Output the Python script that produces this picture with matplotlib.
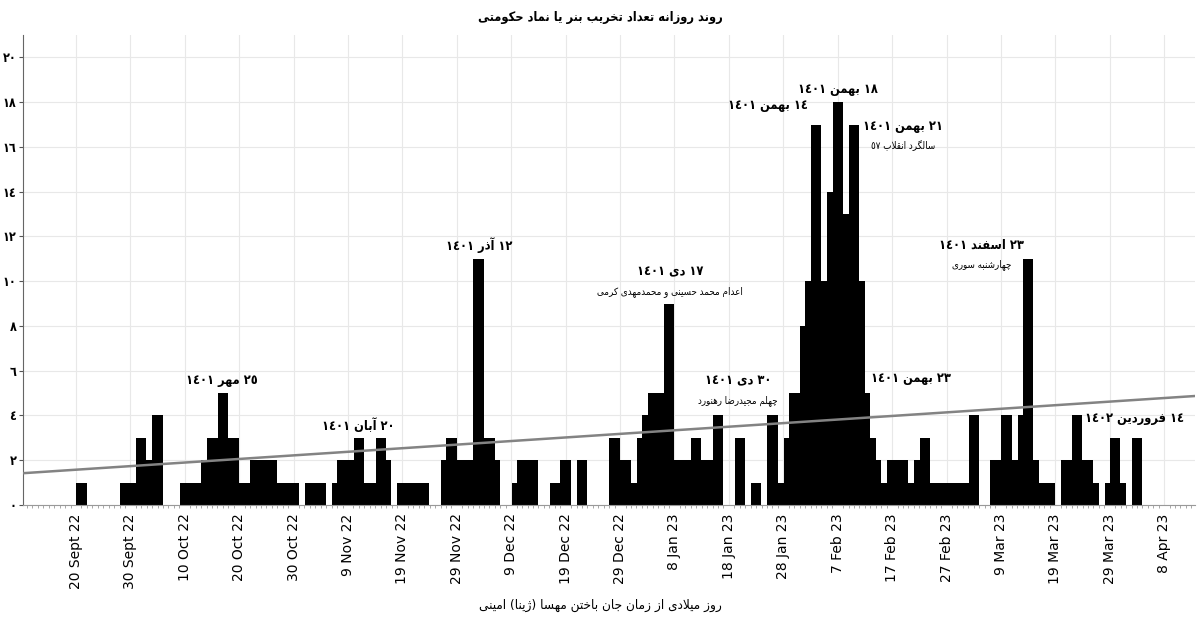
import re
import matplotlib
matplotlib.use("Agg")
import matplotlib.pyplot as plt
import matplotlib.dates as mdates
import pandas as pd

# ---------------- data ----------------
start_date = "2022-09-20"
daily_counts = [
    0, 1, 0, 0, 0, 0, 0, 0, 0, 1,
    1, 1, 3, 2, 2, 4, 0, 0, 0, 0,
    1, 1, 1, 1, 2, 3, 3, 5, 3, 3,
    1, 1, 1, 2, 2, 2, 2, 1, 1, 1,
    1, 0, 0, 1, 1, 1, 0, 0, 1, 2,
    2, 2, 3, 1, 1, 1, 3, 2, 0, 0,
    1, 1, 1, 1, 1, 0, 0, 0, 2, 3,
    2, 2, 2, 2, 11, 3, 3, 2, 0, 0,
    0, 1, 2, 2, 2, 0, 0, 0, 1, 1,
    2, 0, 0, 2, 0, 0, 0, 0, 0, 3,
    2, 2, 1, 1, 3, 4, 5, 5, 5, 9,
    2, 2, 2, 2, 3, 2, 2, 2, 4, 0,
    0, 0, 3, 0, 0, 1, 0, 0, 4, 1,
    1, 3, 5, 5, 8, 10, 17, 10, 10, 14,
    18, 13, 13, 17, 10, 5, 3, 2, 1, 1,
    2, 2, 2, 1, 1, 2, 3, 1, 1, 1,
    1, 1, 1, 1, 1, 4, 0, 0, 0, 2,
    2, 4, 2, 2, 4, 11, 2, 1, 1, 1,
    0, 0, 2, 2, 4, 2, 2, 1, 0, 0,
    1, 3, 1, 0, 0, 3, 0,
]

tick_dates = ["2022-09-20", "2022-09-30", "2022-10-10", "2022-10-20", "2022-10-30",
              "2022-11-09", "2022-11-19", "2022-11-29", "2022-12-09", "2022-12-19",
              "2022-12-29", "2023-01-08", "2023-01-18", "2023-01-28", "2023-02-07",
              "2023-02-17", "2023-02-27", "2023-03-09", "2023-03-19", "2023-03-29",
              "2023-04-08"]
tick_labels = ["20 Sept 22", "30 Sept 22", "10 Oct 22", "20 Oct 22", "30 Oct 22",
               "9 Nov 22", "19 Nov 22", "29 Nov 22", "9 Dec 22", "19 Dec 22",
               "29 Dec 22", "8 Jan 23", "18 Jan 23", "28 Jan 23", "7 Feb 23",
               "17 Feb 23", "27 Feb 23", "9 Mar 23", "19 Mar 23", "29 Mar 23",
               "8 Apr 23"]

y_ticks = [0, 2, 4, 6, 8, 10, 12, 14, 16, 18, 20]
y_tick_labels = ["٠", "٢", "٤", "٦", "٨", "١٠", "١٢", "١٤", "١٦", "١٨", "٢٠"]

trend_dates = ["2022-09-10 05:00", "2023-04-13 16:00"]
trend_values = [1.42, 4.87]

title_text = "روند روزانه تعداد تخریب بنر یا نماد حکومتی"
xlabel_text = "روز میلادی از زمان جان باختن مهسا (ژینا) امینی"

# (date, y, heading, sub-heading)
annotations = [
    ("2022-10-16 20:00", 5.55, "٢٥ مهر ١٤٠١", None),
    ("2022-11-10 20:00", 3.57, "٢٠ آبان ١٤٠١", None),
    ("2022-12-03 02:00", 11.6, "١٢ آذر ١٤٠١", None),
    ("2023-01-07 05:00", 10.4, "١٧ دی ١٤٠١", "اعدام محمد حسینی و محمدمهدی کرمی"),
    ("2023-01-19 17:00", 5.54, "٣٠ دی ١٤٠١", "چهلم مجیدرضا رهنورد"),
    ("2023-01-25 05:00", 17.86, "١٤ بهمن ١٤٠١", None),
    ("2023-02-07 02:00", 18.57, "١٨ بهمن ١٤٠١", None),
    ("2023-02-19 00:00", 16.9, "٢١ بهمن ١٤٠١", "سالگرد انقلاب ٥٧"),
    ("2023-02-20 12:00", 5.67, "٢٣ بهمن ١٤٠١", None),
    ("2023-03-05 10:00", 11.6, "٢٣ اسفند ١٤٠١", "چهارشنبه سوری"),
    ("2023-04-02 12:00", 3.88, "١٤ فروردین ١٤٠٢", None),
]

# ---------------- minimal Persian shaping (matplotlib has no RTL shaping) ----------------
FORMS = {
    "\u0627": ("\uFE8D", "\uFE8E", None, None),
    "\u0622": ("\uFE81", "\uFE82", None, None),
    "\u0628": ("\uFE8F", "\uFE90", "\uFE91", "\uFE92"),
    "\u067E": ("\uFB56", "\uFB57", "\uFB58", "\uFB59"),
    "\u062A": ("\uFE95", "\uFE96", "\uFE97", "\uFE98"),
    "\u062B": ("\uFE99", "\uFE9A", "\uFE9B", "\uFE9C"),
    "\u062C": ("\uFE9D", "\uFE9E", "\uFE9F", "\uFEA0"),
    "\u0686": ("\uFB7A", "\uFB7B", "\uFB7C", "\uFB7D"),
    "\u062D": ("\uFEA1", "\uFEA2", "\uFEA3", "\uFEA4"),
    "\u062E": ("\uFEA5", "\uFEA6", "\uFEA7", "\uFEA8"),
    "\u062F": ("\uFEA9", "\uFEAA", None, None),
    "\u0630": ("\uFEAB", "\uFEAC", None, None),
    "\u0631": ("\uFEAD", "\uFEAE", None, None),
    "\u0632": ("\uFEAF", "\uFEB0", None, None),
    "\u0698": ("\uFB8A", "\uFB8B", None, None),
    "\u0633": ("\uFEB1", "\uFEB2", "\uFEB3", "\uFEB4"),
    "\u0634": ("\uFEB5", "\uFEB6", "\uFEB7", "\uFEB8"),
    "\u0635": ("\uFEB9", "\uFEBA", "\uFEBB", "\uFEBC"),
    "\u0636": ("\uFEBD", "\uFEBE", "\uFEBF", "\uFEC0"),
    "\u0637": ("\uFEC1", "\uFEC2", "\uFEC3", "\uFEC4"),
    "\u0638": ("\uFEC5", "\uFEC6", "\uFEC7", "\uFEC8"),
    "\u0639": ("\uFEC9", "\uFECA", "\uFECB", "\uFECC"),
    "\u063A": ("\uFECD", "\uFECE", "\uFECF", "\uFED0"),
    "\u0641": ("\uFED1", "\uFED2", "\uFED3", "\uFED4"),
    "\u0642": ("\uFED5", "\uFED6", "\uFED7", "\uFED8"),
    "\u06A9": ("\uFB8E", "\uFB8F", "\uFB90", "\uFB91"),
    "\u06AF": ("\uFB92", "\uFB93", "\uFB94", "\uFB95"),
    "\u0644": ("\uFEDD", "\uFEDE", "\uFEDF", "\uFEE0"),
    "\u0645": ("\uFEE1", "\uFEE2", "\uFEE3", "\uFEE4"),
    "\u0646": ("\uFEE5", "\uFEE6", "\uFEE7", "\uFEE8"),
    "\u0647": ("\uFEE9", "\uFEEA", "\uFEEB", "\uFEEC"),
    "\u0648": ("\uFEED", "\uFEEE", None, None),
    "\u06CC": ("\uFBFC", "\uFBFD", "\uFBFE", "\uFBFF"),
}


def _joins_next(c):
    f = FORMS.get(c)
    return f is not None and f[2] is not None


def shape(text):
    out = []
    n = len(text)
    i = 0
    while i < n:
        c = text[i]
        f = FORMS.get(c)
        if f is None:
            out.append(c)
            i += 1
            continue
        prev_j = i > 0 and _joins_next(text[i - 1])
        if c == "\u0644" and i + 1 < n and text[i + 1] in ("\u0627", "\u0622"):
            lig = ("\uFEFB", "\uFEFC") if text[i + 1] == "\u0627" else ("\uFEF5", "\uFEF6")
            out.append(lig[1] if prev_j else lig[0])
            i += 2
            continue
        next_ok = i + 1 < n and text[i + 1] in FORMS and f[2] is not None
        if prev_j and next_ok:
            out.append(f[3])
        elif prev_j:
            out.append(f[1])
        elif next_ok:
            out.append(f[2])
        else:
            out.append(f[0])
        i += 1
    return "".join(out)


def fa(text):
    s = shape(text)[::-1]
    s = re.sub(r"[0-9\u0660-\u0669\u06F0-\u06F9]+", lambda m: m.group(0)[::-1], s)
    return s.translate(str.maketrans("()", ")("))


# ---------------- figure ----------------
plt.rcParams["font.family"] = ["DejaVu Sans"]
FA = dict(family=["DejaVu Sans"], fontstretch="condensed")

fig = plt.figure(figsize=(12, 6.25), dpi=100)
ax = fig.add_axes([22.7 / 1200, 120 / 625, (1195 - 22.7) / 1200, 470 / 625])

dates = pd.date_range(start_date, periods=len(daily_counts), freq="D")
sel = [i for i, v in enumerate(daily_counts) if v > 0]
ax.bar([dates[i] for i in sel], [daily_counts[i] for i in sel], width=1.9,
       color="black", edgecolor="none", linewidth=0, zorder=2)

ax.plot(pd.to_datetime(trend_dates), trend_values, color="#838383", lw=1.8, zorder=3)

ax.set_xlim(pd.Timestamp(trend_dates[0]), pd.Timestamp(trend_dates[1]))
ax.set_ylim(0, 21)

ax.set_xticks(pd.to_datetime(tick_dates))
ax.set_xticklabels(tick_labels, rotation=90, fontsize=10)
ax.xaxis.set_minor_locator(mdates.DayLocator())
ax.tick_params(axis="x", which="major", length=0, pad=6)
ax.tick_params(axis="x", which="minor", length=2, color="#999999", width=0.6)

ax.set_yticks(y_ticks)
ax.set_yticklabels(y_tick_labels, fontsize=9, fontweight="bold", **FA)
ax.tick_params(axis="y", length=3, color="#555555", pad=1.5)

ax.grid(True, color="#e8e8e8", lw=0.8, zorder=0)
ax.set_axisbelow(True)
for sp in ["top", "right"]:
    ax.spines[sp].set_visible(False)
ax.spines["left"].set_color("#666666")
ax.spines["bottom"].set_color("#999999")

fig.text(0.5, 1 - 17 / 625, fa(title_text), ha="center", va="center",
         fontsize=9.2, fontweight="bold", **FA)
fig.text(0.5, 1 - 605 / 625, fa(xlabel_text), ha="center", va="center",
         fontsize=9.7, **FA)

for d, y, head, sub in annotations:
    x = pd.Timestamp(d)
    ax.text(x, y, fa(head), ha="center", va="center", fontsize=9.2,
            fontweight="bold", zorder=5, **FA)
    if sub:
        ax.text(x, y - 0.86, fa(sub), ha="center", va="center", fontsize=7, zorder=5, **FA)

fig.savefig("out.png", dpi=100, facecolor="white")
